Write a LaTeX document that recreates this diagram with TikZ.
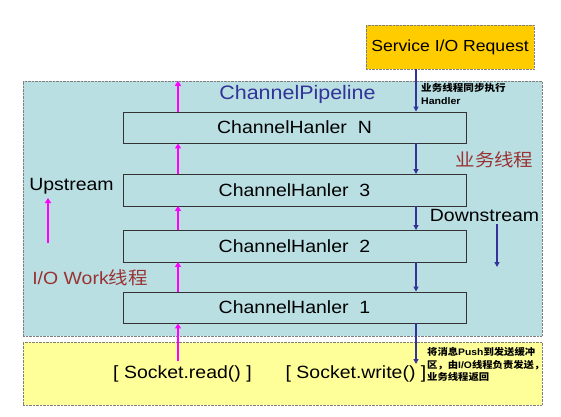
\documentclass[tikz,border=0pt]{standalone}
\usepackage{fontspec}
\setmainfont{Liberation Sans}[FakeStretch=1.1]
\newfontfamily\cjk{Noto Sans CJK SC}[FakeStretch=1.1]
\newcommand{\zh}[1]{{\cjk #1}}
\usepackage{tikz}
\usetikzlibrary{arrows.meta,positioning}
\definecolor{pteal}{HTML}{B9DFE3}
\definecolor{pyellow}{HTML}{FFFF99}
\definecolor{porange}{HTML}{FFCC00}
\definecolor{pmagenta}{HTML}{FF00FF}
\definecolor{pnavy}{HTML}{333399}
\definecolor{pbrown}{HTML}{993333}
\definecolor{pdot}{HTML}{7F7F7F}

\begin{document}
\begin{tikzpicture}[x=1pt,y=-1pt,
    region/.style={draw=pdot,densely dotted,inner sep=0pt},
    hbox/.style={draw=black!80,fill=pteal,minimum width=343pt,
      minimum height=31.5pt,inner sep=0pt,font=\fontsize{17.7}{20}\selectfont},
    lbl/.style={inner sep=0pt,font=\fontsize{17.7}{20}\selectfont},
    small/.style={inner sep=0pt,align=left,
      font=\fontsize{9.6}{12.8}\selectfont\bfseries},
    uparr/.style={pmagenta,line width=2pt,-{Triangle[length=5pt,width=6pt]}},
    downarr/.style={pnavy,line width=1.5pt,-{Triangle[length=5pt,width=5pt]}}]
  \useasboundingbox (0,0) rectangle (561,416);

  % Regions: pipeline (teal) and socket layer (yellow)
  \node[region,fill=pteal,minimum width=519pt,minimum height=255pt]
    (pipe) at (282.5,208.5) {};
  \node[region,fill=pyellow,minimum width=519pt,minimum height=63pt]
    (sock) at (282.5,373.5) {};
  \node[region,fill=porange,minimum width=168pt,minimum height=44pt,
    font=\fontsize{16}{18}\selectfont] (req) at (450,47) {Service I/O Request};

  % Handler chain
  \foreach \n/\y in {N/127.5,3/190,2/246,1/307.5}
    \node[hbox] (h\n) at (294.5,\y) {ChannelHanler\ \ \n};

  % Labels
  \node[lbl,font=\fontsize{19.5}{22}\selectfont,text=pnavy]
    (pipename) at (297.5,94) {ChannelPipeline};
  \node[lbl] (up) at (71.5,186) {Upstream};
  \node[lbl] (down) at (484.5,215) {Downstream};
  \node[lbl,text=pbrown] (biz) at (494.5,160) {\zh{业务线程}};
  \node[lbl,text=pbrown] (iow) at (90,278) {I/O Work\zh{线程}};
  \node[small,anchor=west] (sync) at (421,94) {\zh{业务线程同步执行}\\Handler};
  \node[lbl] (rd) at (182.5,374) {[ Socket.read() ]};
  \node[lbl] (wr) at (356,374) {[ Socket.write() ]};
  \node[small,anchor=north west,font=\fontsize{9.4}{12.8}\selectfont\bfseries]
    (note) at (427,347)
    {\zh{将消息}Push\zh{到发送缓冲}\\\zh{区，由}I/O\zh{线程负责发送，}\\\zh{业务线程返回}};

  % Arrow anchors
  \coordinate (upx) at (178,0);
  \coordinate (dnx) at (416,0);
  \coordinate (rdstart) at (178,361);
  \coordinate (wrend) at (416,364);
  \coordinate (uptail) at (48,243);
  \coordinate (uphead) at (48,198);
  \coordinate (dntail) at (497,224);
  \coordinate (dnhead) at (497,267);

  % Upstream (I/O work thread)
  \draw[uparr] (rdstart) -- (h1.south -| upx);
  \foreach \a/\b in {1/2,2/3,3/N}
    \draw[uparr] (h\a.north -| upx) -- (h\b.south -| upx);
  \draw[uparr] (hN.north -| upx) -- (pipe.north -| upx);
  \draw[uparr] (uptail) -- (uphead);

  % Downstream (business thread)
  \draw[downarr] (req.south -| dnx) -- (hN.north -| dnx);
  \foreach \a/\b in {N/3,3/2,2/1}
    \draw[downarr] (h\a.south -| dnx) -- (h\b.north -| dnx);
  \draw[downarr] (h1.south -| dnx) -- (wrend);
  \draw[downarr] (dntail) -- (dnhead);
\end{tikzpicture}
\end{document}
